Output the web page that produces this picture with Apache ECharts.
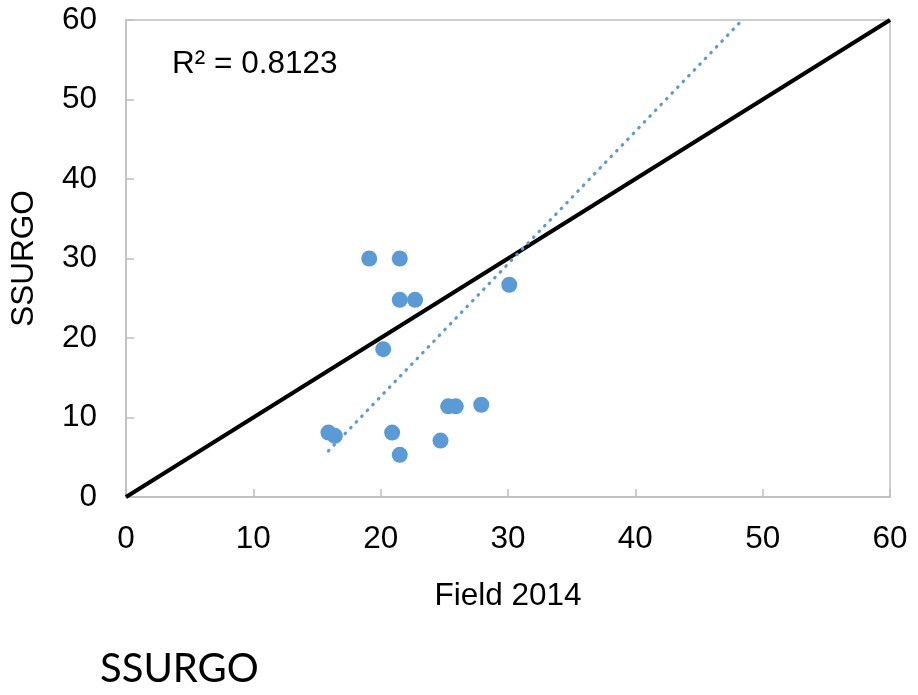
<!DOCTYPE html>
<html>
<head>
<meta charset="utf-8">
<script src="https://cdn.jsdelivr.net/npm/echarts@6/dist/echarts.min.js"></script>
<style>html,body{margin:0;padding:0;background:#fff}#c{width:918px;height:695px}</style>
</head>
<body>
<div id="c"></div>
<script>
const fieldX = [19.1, 21.5, 21.5, 22.7, 20.2, 15.9, 16.4, 20.9, 21.5, 24.7, 25.3, 25.9, 27.9, 30.1];
const ssurgoY = [30.0, 30.0, 24.8, 24.8, 18.6, 8.1, 7.7, 8.1, 5.3, 7.1, 11.4, 11.4, 11.6, 26.7];
const trendX = [15.9, 48.4];
const trendY = [5.8, 60];
const identityX = [0, 60];
const identityY = [0, 60];
const axisTicks = [0, 10, 20, 30, 40, 50, 60];
const r2Text = 'R² = 0.8123';

const pts = fieldX.map((x, i) => [x, ssurgoY[i]]);
const trend = trendX.map((x, i) => [x, trendY[i]]);
const ident = identityX.map((x, i) => [x, identityY[i]]);

const FONT = 'Liberation Sans, Arial';
const chart = echarts.init(document.getElementById('c'));
const axisCommon = {
  type: 'value', min: axisTicks[0], max: axisTicks[axisTicks.length - 1], interval: 10,
  axisLine: { show: true, lineStyle: { color: '#bfbfbf', width: 1.5 } },
  axisTick: { show: true, inside: true, length: 8, lineStyle: { color: '#bfbfbf', width: 1.5 } },
  splitLine: { show: false },
  axisLabel: { color: '#000', fontSize: 31.5, fontFamily: FONT },
  nameTextStyle: { color: '#000', fontSize: 31.5, fontFamily: FONT },
  nameLocation: 'middle'
};
chart.setOption({
  animation: false,
  backgroundColor: '#fff',
  grid: { left: 126, right: 28, top: 20, bottom: 198, show: true, borderColor: '#bfbfbf', borderWidth: 1.5 },
  xAxis: Object.assign({}, axisCommon, { name: 'Field 2014', nameGap: 83, axisLabel: Object.assign({}, axisCommon.axisLabel, { margin: 26 }) }),
  yAxis: Object.assign({}, axisCommon, { name: 'SSURGO', nameGap: 86, axisLabel: Object.assign({}, axisCommon.axisLabel, { margin: 29 }) }),
  graphic: [
    { type: 'text', left: 172, top: 48, style: { text: r2Text, fontSize: 31.5, fontFamily: FONT, fill: '#000' } },
    { type: 'text', left: 100, top: 649, style: { text: 'SSURGO', fontSize: 40, fontFamily: 'Lato, Open Sans', fill: '#000' } }
  ],
  series: [
    { type: 'line', data: ident, symbol: 'none', lineStyle: { color: '#000', width: 4 }, z: 3 },
    { type: 'line', data: trend, symbol: 'none', lineStyle: { color: '#5b9bd5', width: 3.2, type: [0.6, 7.4], cap: 'round' }, z: 4 },
    { type: 'scatter', data: pts, symbolSize: 16, itemStyle: { color: '#5b9bd5', opacity: 1 }, z: 5 }
  ]
});
</script>
</body>
</html>
